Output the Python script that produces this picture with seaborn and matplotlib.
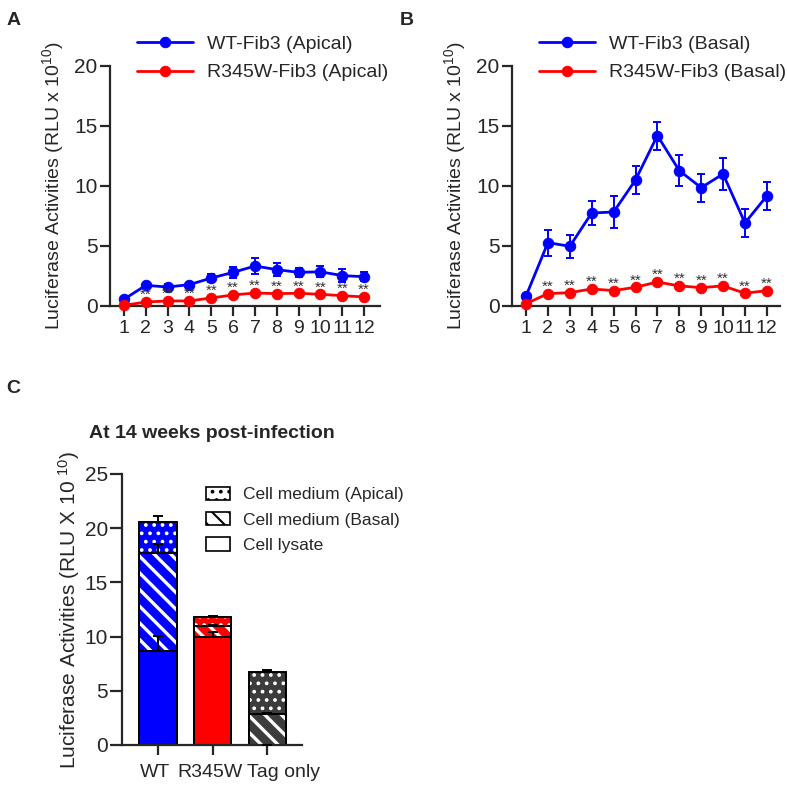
import numpy as np
import matplotlib
matplotlib.use("Agg")
import matplotlib.pyplot as plt
import matplotlib.transforms as mtransforms
from matplotlib.patches import Patch, Rectangle
import seaborn as sns

# weeks post infection
weeks = [1, 2, 3, 4, 5, 6, 7, 8, 9, 10, 11, 12]

# panel A - apical medium
wt_apical = [0.56, 1.72, 1.58, 1.78, 2.33, 2.8, 3.33, 3.03, 2.8, 2.85, 2.53, 2.44]
wt_apical_err = [0.1, 0.2, 0.22, 0.15, 0.35, 0.47, 0.7, 0.55, 0.4, 0.45, 0.55, 0.35]
mut_apical = [0.05, 0.33, 0.42, 0.42, 0.67, 0.92, 1.08, 1.03, 1.06, 0.97, 0.86, 0.75]
mut_apical_err = [0.03, 0.08, 0.08, 0.08, 0.1, 0.1, 0.12, 0.1, 0.1, 0.1, 0.1, 0.1]

# panel B - basal medium
wt_basal = [0.83, 5.28, 4.97, 7.75, 7.83, 10.5, 14.2, 11.28, 9.86, 11.0, 6.92, 9.17]
wt_basal_err = [0.15, 1.08, 0.95, 0.97, 1.3, 1.2, 1.17, 1.28, 1.17, 1.31, 1.2, 1.14]
mut_basal = [0.19, 1.03, 1.11, 1.42, 1.28, 1.56, 2.0, 1.67, 1.53, 1.67, 1.06, 1.28]
mut_basal_err = [0.05, 0.12, 0.12, 0.12, 0.12, 0.12, 0.15, 0.12, 0.12, 0.12, 0.1, 0.12]

# panel C - at 14 weeks
groups = ["WT", "R345W", "Tag only"]
lysate = [8.68, 9.94, 0.0]
lysate_err = [1.4, 0.45, 0.0]
basal = [9.02, 0.99, 2.89]
basal_err = [0.83, 0.15, 0.05]
apical = [2.84, 0.83, 3.85]
apical_err = [0.57, 0.1, 0.2]
bar_colors = ["#0000ff", "#ff0000", "#3c3c3c"]

sns.set_style("ticks")
plt.rcParams["font.family"] = ["Liberation Sans", "DejaVu Sans"]
plt.rcParams["mathtext.fontset"] = "custom"
plt.rcParams["mathtext.rm"] = "Liberation Sans"
plt.rcParams["mathtext.it"] = "Liberation Sans"
plt.rcParams["axes.linewidth"] = 1.6

fig = plt.figure(figsize=(7.87, 7.89), dpi=100)
ax_a = fig.add_axes([0.1398, 0.6122, 0.3431, 0.3042])
ax_b = fig.add_axes([0.6506, 0.6122, 0.3405, 0.3042])
ax_c = fig.add_axes([0.155, 0.0558, 0.2287, 0.3435])


def line_panel(ax, wt, wt_err, mut, mut_err, site, xlim, leg_x):
    sns.lineplot(x=weeks, y=wt, color="#0000ff", marker="o", markersize=7.5,
                 markeredgecolor="#0000ff", linewidth=2, clip_on=False,
                 label=f"WT-Fib3 ({site})", ax=ax, zorder=4)
    ax.errorbar(weeks, wt, yerr=wt_err, fmt="none", ecolor="#0000ff",
                elinewidth=1.4, capsize=3, capthick=1.4, zorder=3)
    sns.lineplot(x=weeks, y=mut, color="#ff0000", marker="o", markersize=7.5,
                 markeredgecolor="#ff0000", linewidth=2, clip_on=False,
                 label=f"R345W-Fib3 ({site})", ax=ax, zorder=5)
    ax.errorbar(weeks, mut, yerr=mut_err, fmt="none", ecolor="#ff0000",
                elinewidth=1.4, capsize=3, capthick=1.4, zorder=3)
    for w, m in zip(weeks[1:], mut[1:]):
        ax.annotate("**", (w, m), xytext=(0, 5), textcoords="offset points",
                    ha="center", va="center", fontsize=11, color="#333333",
                    zorder=7)
    ax.set_xlim(*xlim)
    ax.set_ylim(0, 20)
    ax.set_xticks(weeks)
    ax.set_yticks([0, 5, 10, 15, 20])
    ax.tick_params(axis="x", labelsize=14, length=7, width=1.6, pad=3)
    ax.tick_params(axis="y", labelsize=15, length=7, width=1.6, pad=2)
    ax.set_ylabel(r"Luciferase Activities (RLU x 10$^{10}$)", fontsize=14, labelpad=6)
    ax.set_xlabel("")
    sns.despine(ax=ax)
    ax.legend(loc="upper left", bbox_to_anchor=(leg_x, 0.955),
              bbox_transform=fig.transFigure, frameon=False, fontsize=14,
              handlelength=2.9, handletextpad=0.7, labelspacing=0.55,
              borderpad=0, borderaxespad=0)


line_panel(ax_a, wt_apical, wt_apical_err, mut_apical, mut_apical_err,
           "Apical", (0.36, 12.73), 0.174)
line_panel(ax_b, wt_basal, wt_basal_err, mut_basal, mut_basal_err,
           "Basal", (0.36, 12.6), 0.685)

# panel C stacked bars, tallest layer drawn first
top_basal = np.array(lysate) + np.array(basal)
top_apical = top_basal + np.array(apical)
layers = [(top_apical, "..", 1.5), (top_basal, "\\\\", 2.4), (np.array(lysate), "", 1.0)]
for heights, hatch, hlw in layers:
    plt.rcParams["hatch.linewidth"] = hlw
    n0 = len(ax_c.patches)
    sns.barplot(x=groups, y=heights, hue=groups, palette=bar_colors,
                saturation=1, width=0.68, legend=False, ax=ax_c)
    for p in ax_c.patches[n0:]:
        p.set_hatch(hatch)
        if hasattr(p, "set_hatch_linewidth"):
            p.set_hatch_linewidth(hlw)
        p.set_edgecolor("white")
        p.set_linewidth(0)
        ax_c.add_patch(Rectangle(p.get_xy(), p.get_width(), p.get_height(),
                                 fill=False, edgecolor="black", linewidth=1.4,
                                 zorder=2.5))

xpos = np.arange(len(groups))
for tops, errs in [(lysate, lysate_err), (top_basal, basal_err), (top_apical, apical_err)]:
    ax_c.errorbar(xpos, tops, yerr=[np.zeros(len(errs)), errs], fmt="none",
                  ecolor="black", elinewidth=1.4, capsize=3.5, capthick=1.4, zorder=4)

ax_c.set_xlim(-0.66, 2.64)
ax_c.set_ylim(0, 25)
ax_c.set_yticks([0, 5, 10, 15, 20, 25])
ax_c.tick_params(axis="x", labelsize=14, length=7, width=1.6, pad=7)
ax_c.tick_params(axis="y", labelsize=15, length=9, width=1.6, pad=1)
ax_c.set_ylabel(r"Luciferase Activities (RLU X 10 $^{10}$)", fontsize=15, labelpad=2)
ax_c.set_xlabel("")
ax_c.set_title("At 14 weeks post-infection", fontsize=14, fontweight="bold", pad=26)
sns.despine(ax=ax_c)
shifts = [-3, -3, 16]
for lab, s in zip(ax_c.get_xticklabels(), shifts):
    lab.set_transform(lab.get_transform() +
                      mtransforms.ScaledTranslation(s / 100, 0, fig.dpi_scale_trans))

plt.rcParams["hatch.linewidth"] = 1.5
handles = [Patch(facecolor="white", edgecolor="black", hatch="..", linewidth=1.2),
           Patch(facecolor="white", edgecolor="black", hatch="\\\\", linewidth=1.2),
           Patch(facecolor="white", edgecolor="black", linewidth=1.2)]
ax_c.legend(handles, ["Cell medium (Apical)", "Cell medium (Basal)", "Cell lysate"],
            loc="upper left", bbox_to_anchor=(0.2618, 0.383),
            bbox_transform=fig.transFigure, frameon=False, fontsize=12.5,
            handlelength=1.4, handleheight=0.8, handletextpad=0.75,
            labelspacing=0.55, borderpad=0, borderaxespad=0)

for lbl, x, y in [("A", 0.008, 0.985), ("B", 0.508, 0.985), ("C", 0.008, 0.518)]:
    fig.text(x, y, lbl, fontsize=14, fontweight="bold", va="top")

fig.savefig("out.png", dpi=100, facecolor="white")
